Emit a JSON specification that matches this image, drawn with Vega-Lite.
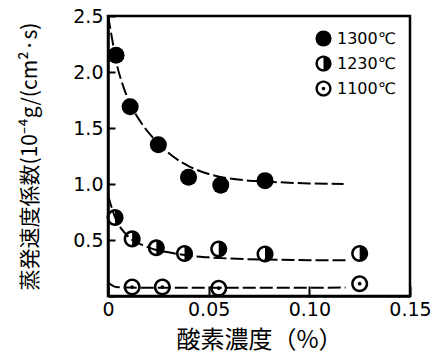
{
  "$schema": "https://vega.github.io/schema/vega-lite/v6.json",
  "width": 302,
  "height": 280,
  "autosize": {"type": "none"},
  "padding": {"left": 108, "top": 16, "right": 27, "bottom": 63},
  "background": "white",
  "config": {
    "view": {"stroke": "black", "strokeWidth": 2.5},
    "axis": {"grid": false, "domainColor": "black", "domainWidth": 2.5, "tickColor": "black", "tickWidth": 2, "labelColor": "black", "titleColor": "black", "labelFont": "DejaVu Sans", "labelFontSize": 19, "titleFont": "Noto Sans CJK JP", "titleFontWeight": "normal"}
  },
  "datasets": {
    "points": [
      {"series": "1300℃", "x": 0.004, "y": 2.15},
      {"series": "1300℃", "x": 0.011, "y": 1.69},
      {"series": "1300℃", "x": 0.025, "y": 1.35},
      {"series": "1300℃", "x": 0.04, "y": 1.06},
      {"series": "1300℃", "x": 0.056, "y": 0.99},
      {"series": "1300℃", "x": 0.078, "y": 1.03},
      {"series": "1230℃", "x": 0.0035, "y": 0.7},
      {"series": "1230℃", "x": 0.012, "y": 0.51},
      {"series": "1230℃", "x": 0.024, "y": 0.43},
      {"series": "1230℃", "x": 0.038, "y": 0.38},
      {"series": "1230℃", "x": 0.055, "y": 0.42},
      {"series": "1230℃", "x": 0.078, "y": 0.375},
      {"series": "1230℃", "x": 0.125, "y": 0.38},
      {"series": "1100℃", "x": 0.012, "y": 0.08},
      {"series": "1100℃", "x": 0.027, "y": 0.08},
      {"series": "1100℃", "x": 0.055, "y": 0.07},
      {"series": "1100℃", "x": 0.125, "y": 0.11}
    ],
    "curves": [
      {"series": "a", "x": 0.0, "y": 2.5},
      {"series": "a", "x": 0.002, "y": 2.3},
      {"series": "a", "x": 0.004, "y": 2.1},
      {"series": "a", "x": 0.008, "y": 1.85},
      {"series": "a", "x": 0.012, "y": 1.68},
      {"series": "a", "x": 0.016, "y": 1.56},
      {"series": "a", "x": 0.024, "y": 1.38},
      {"series": "a", "x": 0.032, "y": 1.25},
      {"series": "a", "x": 0.04, "y": 1.16},
      {"series": "a", "x": 0.05, "y": 1.09},
      {"series": "a", "x": 0.06, "y": 1.05},
      {"series": "a", "x": 0.07, "y": 1.03},
      {"series": "a", "x": 0.08, "y": 1.02},
      {"series": "a", "x": 0.1, "y": 1.005},
      {"series": "a", "x": 0.117, "y": 1.0},
      {"series": "b", "x": 0.0, "y": 0.9},
      {"series": "b", "x": 0.004, "y": 0.68},
      {"series": "b", "x": 0.008, "y": 0.57},
      {"series": "b", "x": 0.012, "y": 0.5},
      {"series": "b", "x": 0.018, "y": 0.45},
      {"series": "b", "x": 0.024, "y": 0.41},
      {"series": "b", "x": 0.03, "y": 0.39},
      {"series": "b", "x": 0.04, "y": 0.36},
      {"series": "b", "x": 0.05, "y": 0.345},
      {"series": "b", "x": 0.06, "y": 0.335},
      {"series": "b", "x": 0.08, "y": 0.325},
      {"series": "b", "x": 0.1, "y": 0.32},
      {"series": "b", "x": 0.119, "y": 0.32},
      {"series": "c", "x": 0.0, "y": 0.12},
      {"series": "c", "x": 0.004, "y": 0.08},
      {"series": "c", "x": 0.01, "y": 0.075},
      {"series": "c", "x": 0.06, "y": 0.073},
      {"series": "c", "x": 0.118, "y": 0.075}
    ]
  },
  "layer": [
    {
      "data": {"name": "curves"},
      "mark": {"type": "line", "color": "black", "strokeWidth": 2, "strokeDash": [13, 4], "interpolate": "monotone", "clip": true},
      "encoding": {
        "x": {"field": "x", "type": "quantitative", "scale": {"domain": [0, 0.15], "nice": false}},
        "y": {"field": "y", "type": "quantitative", "scale": {"domain": [0, 2.5], "nice": false}},
        "detail": {"field": "series"}
      }
    },
    {
      "data": {"name": "points"},
      "mark": {"type": "point", "filled": true, "opacity": 1, "size": 290, "color": "black", "strokeWidth": 0},
      "encoding": {
        "x": {"field": "x", "type": "quantitative", "scale": {"domain": [0, 0.15], "nice": false},
          "axis": {"values": [0, 0.05, 0.1, 0.15], "labelExpr": "datum.value == 0 ? '0' : format(datum.value, '.2f')", "tickSize": -10, "labelPadding": 14, "title": "酸素濃度（%）", "titleFontSize": 24, "titlePadding": 9, "labelFlush": false}},
        "y": {"field": "y", "type": "quantitative", "scale": {"domain": [0, 2.5], "nice": false},
          "axis": {"values": [0, 0.5, 1, 1.5, 2, 2.5], "labelExpr": "datum.value == 0 ? '' : format(datum.value, '.1f')", "tickSize": -7, "labelPadding": 12, "title": "蒸発速度係数(10⁻⁴g/(cm²·s)", "titleFontSize": 21, "titlePadding": 32, "labelFlush": false}},
        "shape": {"field": "series", "type": "nominal",
          "scale": {"domain": ["1300℃", "1230℃", "1100℃"], "range": ["circle", "M-1,0A1,1,0,1,1,1,0A1,1,0,1,1,-1,0ZM-0.7,0A0.7,0.7,0,1,0,0.7,0A0.7,0.7,0,1,0,-0.7,0ZM0,-0.7A0.7,0.7,0,0,1,0,0.7Z", "M-1,0A1,1,0,1,1,1,0A1,1,0,1,1,-1,0ZM-0.7,0A0.7,0.7,0,1,0,0.7,0A0.7,0.7,0,1,0,-0.7,0ZM-0.22,0A0.22,0.22,0,1,1,0.22,0A0.22,0.22,0,1,1,-0.22,0Z"]},
          "legend": {"title": null, "orient": "top-right", "offset": 14, "labelFont": "DejaVu Sans", "labelFontSize": 16, "labelColor": "black", "symbolSize": 260, "symbolFillColor": "black", "symbolStrokeWidth": 0, "symbolOpacity": 1, "rowPadding": 8, "labelOffset": 5}}
      }
    }
  ]
}
